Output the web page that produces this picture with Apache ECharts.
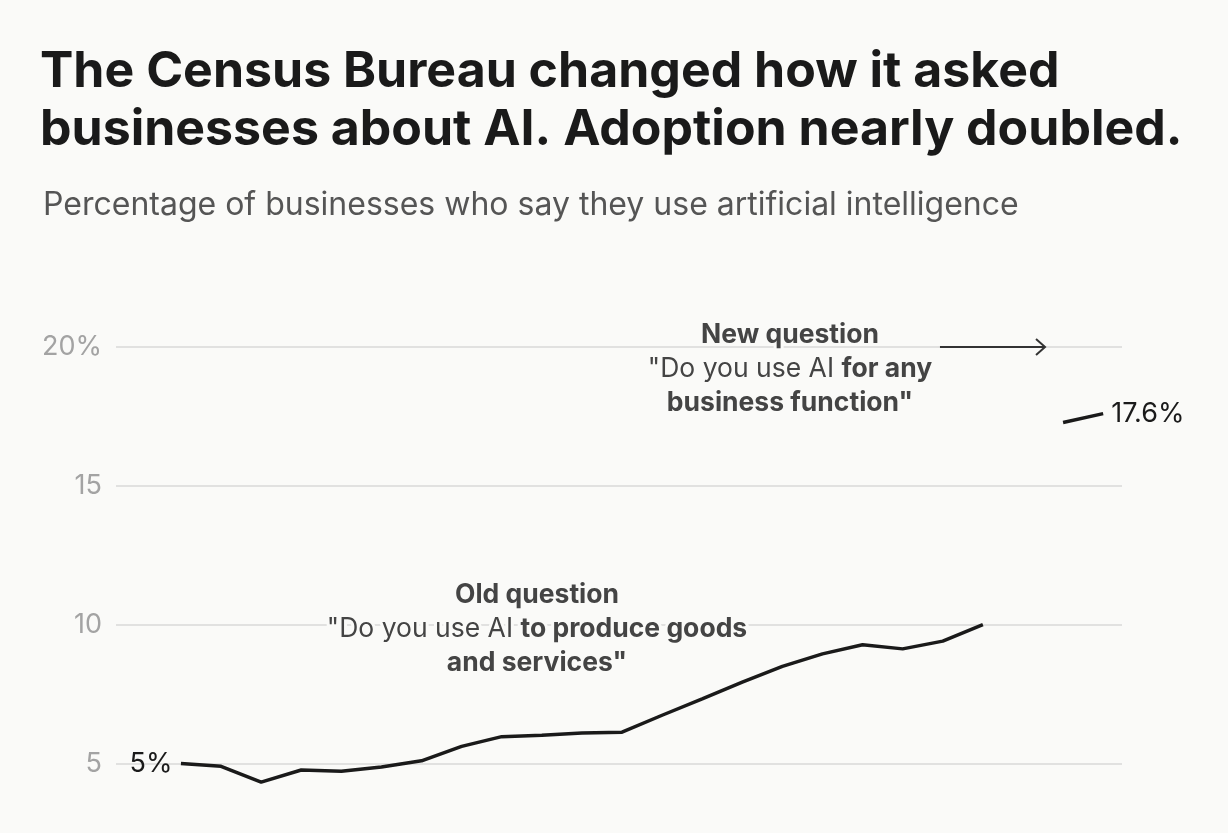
<!DOCTYPE html>
<html>
<head>
<meta charset="utf-8">
<script src="https://cdn.jsdelivr.net/npm/echarts@6/dist/echarts.min.js"></script>
<style>
html,body{margin:0;padding:0;background:#fafaf8;}
#c{width:1228px;height:833px;}
</style>
</head>
<body>
<div id="c"></div>
<script>
// Old question: "Do you use AI to produce goods and services" (survey rounds 0..20)
const oldValues = [5.0, 4.9, 4.33, 4.77, 4.72, 4.88, 5.1, 5.62, 5.97, 6.02, 6.1, 6.13, 6.74, 7.33, 7.93, 8.5, 8.95, 9.28, 9.13, 9.41, 10.0];
// New question: "Do you use AI for any business function" (survey rounds 22..23)
const newStartRound = 22;
const newValues = [17.28, 17.6];
const yTicks = [5, 10, 15, 20];

const BG = '#fafaf8';
const FONT = 'Inter, "Liberation Sans", sans-serif';

const chart = echarts.init(document.getElementById('c'), null, {renderer: 'canvas'});

const oldData = oldValues.map((v, i) => i === 0
  ? {value: [i, v], label: {show: true, position: 'left', distance: 8, formatter: (p) => Math.round(p.value[1]) + '%', color: '#1a1a1a', fontSize: 27, fontFamily: FONT}}
  : [i, v]);
const newData = newValues.map((v, i) => [newStartRound + i, v]);

const option = {
  backgroundColor: BG,
  animation: false,
  title: [{
    text: 'The Census Bureau changed how it asked\nbusinesses about AI. Adoption nearly doubled.',
    left: 35, top: 38,
    textStyle: {fontFamily: FONT, fontSize: 50, fontWeight: 700, color: '#1a1a1a', lineHeight: 58}
  }, {
    text: 'Percentage of businesses who say they use artificial intelligence',
    left: 38, top: 184,
    textStyle: {fontFamily: FONT, fontSize: 32, fontWeight: 400, color: '#555555'}
  }],
  grid: {left: 116, right: 106, top: 347, bottom: 0, containLabel: false},
  xAxis: {
    type: 'value', min: -1.62, max: 23.47, show: false
  },
  yAxis: {
    type: 'value', min: 2.5, max: 20, interval: 2.5,
    axisLine: {show: false}, axisTick: {show: false},
    splitLine: {lineStyle: {color: ['rgba(0,0,0,0)', '#d9d9d9'], width: 1.5}},
    axisLabel: {
      margin: 14, color: '#a3a3a3', fontSize: 27, fontFamily: FONT,
      formatter: (v) => yTicks.indexOf(v) < 0 ? '' : (v === 20 ? v + '%' : String(v))
    }
  },
  series: [{
    type: 'line', data: oldData, symbol: 'circle', symbolSize: 1, showSymbol: true, clip: false,
    itemStyle: {color: 'rgba(0,0,0,0)'},
    lineStyle: {color: '#1a1a1a', width: 3.5}
  }, {
    type: 'line', data: newData, symbol: 'none', clip: false,
    lineStyle: {color: '#1a1a1a', width: 3.5},
    endLabel: {show: true, distance: 8, formatter: (p) => p.value[1].toFixed(1) + '%', color: '#1a1a1a', fontSize: 27, fontFamily: FONT}
  }]
};
chart.setOption(option);

function px(x, y) { return chart.convertToPixel({gridIndex: 0}, [x, y]); }

const tokenBase = {fontFamily: FONT, fontSize: 26.5, fill: '#444', stroke: BG, lineWidth: 6, lineHeight: 34};
function note(xData, topY, text) {
  const p = px(xData, 20);
  return {
    type: 'text', x: p[0], y: topY, z: 50,
    style: {
      text: text, align: 'center', verticalAlign: 'top',
      fontFamily: FONT, fontSize: 26.5, fill: '#444', stroke: BG, lineWidth: 6, strokeFirst: true, lineHeight: 34,
      rich: {
        b: Object.assign({}, tokenBase, {fontWeight: 700}),
        r: Object.assign({}, tokenBase, {fontWeight: 400})
      }
    }
  };
}
const a0 = px(18.93, 20), a1 = px(21.55, 20);
chart.setOption({
  graphic: [
    note(8.88, 578, '{b|Old question}\n{r|"Do you use AI }{b|to produce goods}\n{b|and services"}'),
    note(15.19, 318, '{b|New question}\n{r|"Do you use AI }{b|for any}\n{b|business function"}'),
    {type: 'line', z: 60, shape: {x1: a0[0], y1: a0[1], x2: a1[0], y2: a1[1]}, style: {stroke: '#333', lineWidth: 2}},
    {type: 'polyline', z: 60, shape: {points: [[a1[0] - 9, a1[1] - 8], [a1[0], a1[1]], [a1[0] - 9, a1[1] + 8]]}, style: {stroke: '#333', lineWidth: 2, fill: null}}
  ]
});
</script>
</body>
</html>
